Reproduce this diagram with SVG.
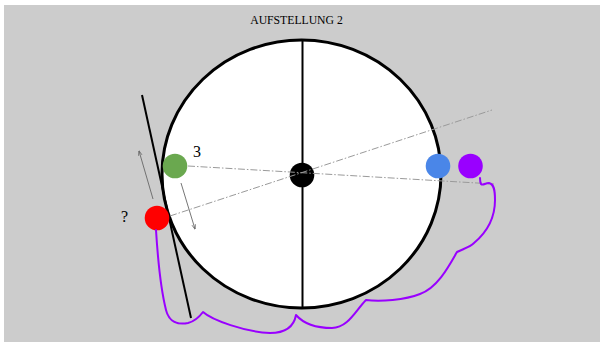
<svg xmlns="http://www.w3.org/2000/svg" width="600" height="342" viewBox="0 0 600 342">
<defs>
<style>
.bg{fill:#cccccc}
.wheel{fill:#ffffff;stroke:#000000;stroke-width:3}
.axis{stroke:#000000;stroke-width:2;fill:none}
.dash{stroke:#9a9a9a;stroke-width:1;fill:none;stroke-dasharray:7,2,1.5,2}
.arr{stroke:#666666;stroke-width:0.9;fill:none}
.cable{stroke:#9900ff;stroke-width:2;fill:none;stroke-linecap:round;stroke-linejoin:round}
.lbl{font-family:"Liberation Serif","Times New Roman",serif;fill:#000000}
</style>
<marker id="ah" viewBox="0 0 10 10" refX="9" refY="5" markerWidth="5" markerHeight="5" orient="auto" markerUnits="userSpaceOnUse">
<path d="M0,1.5 L10,5 L0,8.5" fill="none" stroke="#666666" stroke-width="1.5"/>
</marker>
</defs>
<rect class="bg" x="4" y="5" width="596" height="337"/>
<g id="wheel">
<ellipse class="wheel" cx="301.5" cy="174" rx="139.5" ry="134"/>
<line class="axis" x1="302.5" y1="40" x2="302.5" y2="308"/>
</g>
<g id="tangent">
<line x1="142" y1="95" x2="191" y2="318" stroke="#000000" stroke-width="2"/>
</g>
<g id="center"><ellipse cx="302" cy="175" rx="12.3" ry="12.3" fill="#000000"/></g>
<g id="green"><circle cx="175" cy="166" r="12.3" fill="#6aa84f"/></g>
<g id="red"><circle cx="157" cy="218" r="12.3" fill="#ff0000"/></g>
<g id="blue"><circle cx="438" cy="166" r="12.3" fill="#4a86e8"/></g>
<g id="purple"><circle cx="470.5" cy="166" r="12.3" fill="#9900ff"/></g>
<g id="connectors">
<line class="dash" x1="188" y1="166" x2="494" y2="184"/>
<line class="dash" x1="170" y1="216" x2="492" y2="110"/>
<line class="arr" x1="153" y1="199" x2="139" y2="151" marker-end="url(#ah)"/>
<line class="arr" x1="181" y1="183" x2="195" y2="229" marker-end="url(#ah)"/>
<path class="cable" d="M156,230 C158,262 161,290 166,310 C169,322 178,325 188,323 C196,321 200,316 203,312 C212,320 245,332 270,333 C287,333 294,326 296,315 C303,323 316,328 332,328 C348,328 356,310 366,300 C380,302 405,300 420,294 C437,288 448,268 457,252 C463,249 470,247 474,243 C486,233 495,218 495,200 C495,190 494,184 489,183 C485,183 483,186 481,184 C480,182 480,180 480,178"/>
</g>
<g id="labels">
<text class="lbl" x="296.5" y="24" font-size="11.7" text-anchor="middle">AUFSTELLUNG 2</text>
<text class="lbl" x="197" y="157" font-size="16" text-anchor="middle">3</text>
<text class="lbl" x="124.5" y="222" font-size="16" text-anchor="middle">?</text>
</g>
</svg>
